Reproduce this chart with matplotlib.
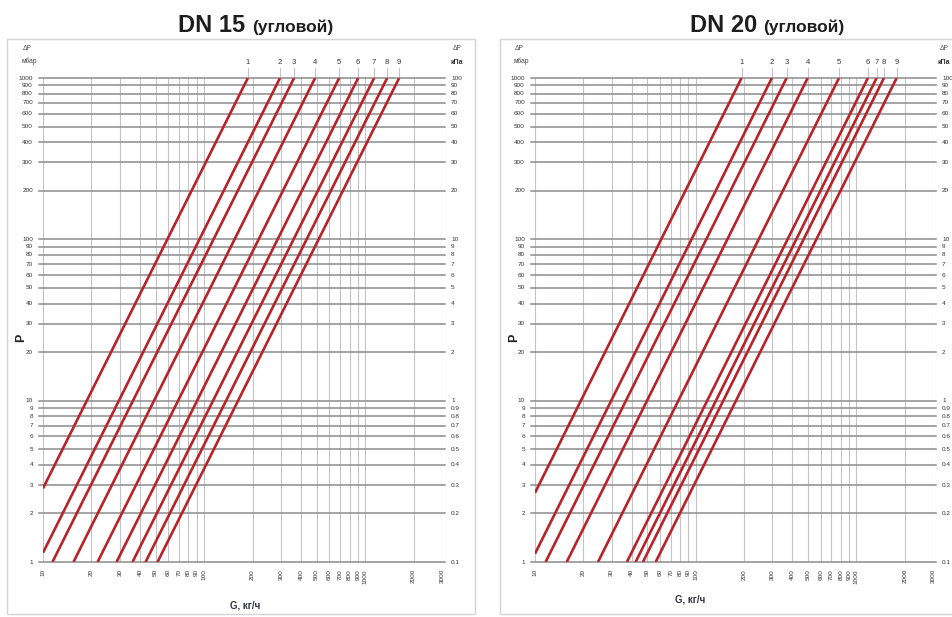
import numpy as np
import matplotlib
matplotlib.use("Agg")
import matplotlib.pyplot as plt
from matplotlib.patches import Rectangle

# ---------------- data ----------------
g_ticks = [10, 20, 30, 40, 50, 60, 70, 80, 90, 100,
           200, 300, 400, 500, 600, 700, 800, 900, 1000, 2000, 3000]
p_ticks = [1, 2, 3, 4, 5, 6, 7, 8, 9, 10,
           20, 30, 40, 50, 60, 70, 80, 90, 100,
           200, 300, 400, 500, 600, 700, 800, 900, 1000]
line_labels = ["1", "2", "3", "4", "5", "6", "7", "8", "9"]
# flow G (kg/h) at which each curve reaches dP = 1000 mbar (read at top of chart)
dn15_g1000 = [187, 296, 362, 489, 690, 905, 1137, 1370, 1626]
dn20_g1000 = [193, 298, 368, 498, 780, 1180, 1337, 1485, 1782]
titles = ["DN 15", "DN 20"]
subtitle = "(угловой)"

W, H = 953, 617
fig = plt.figure(figsize=(W / 100, H / 100), dpi=100)
fig.patch.set_facecolor("white")

NUMFONT = ["Liberation Sans Narrow", "Liberation Sans", "DejaVu Sans"]
RED = "#b8232a"
HGRID = "#8c8c8c"
VGRID = "#c4c4c4"


def add_px_axes(l, t, r, b):
    return fig.add_axes([l / W, 1 - b / H, (r - l) / W, (b - t) / H])


def fig_text(x, y, s, **kw):
    fig.text(x / W, 1 - y / H, s, **kw)


def draw_panel(ax, g1000):
    ax.set_xscale("log")
    ax.set_yscale("log")
    ax.set_xlim(10, 3000)
    ax.set_ylim(1, 1000)
    ax.set_axis_off()
    # vertical grid
    for g in g_ticks:
        ax.plot([g, g], [1, 1000], color=VGRID, lw=0.8, zorder=1)
    # horizontal grid extending slightly outside
    for p in p_ticks:
        ax.plot([-4 / 399, 1 + 3 / 399], [p, p], color=HGRID, lw=1.1,
                transform=ax.get_yaxis_transform(), clip_on=False, zorder=2)
    # curves  dP = 1000 * (G / G1000)^2
    for lab, g1 in zip(line_labels, g1000):
        g_start = max(10.0, g1 / np.sqrt(1000.0))
        gs = np.array([g_start, g1])
        ps = 1000.0 * (gs / g1) ** 2
        ax.plot(gs, ps, color=RED, lw=1.9, solid_capstyle="butt", zorder=4)
        ax.plot([g1, g1], [1000, 1000 * 10 ** (10 / 161.3)], color=VGRID,
                lw=0.8, clip_on=False, zorder=1)
        ax.annotate(lab, xy=(g1, 1), xycoords=("data", "axes fraction"),
                    xytext=(0, 15), textcoords="offset pixels",
                    ha="center", va="center", fontsize=5.5,
                    family=NUMFONT, color="#333333")
    # left (mbar) and right (kPa) tick labels
    for p in p_ticks:
        ax.annotate(f"{p:g}", xy=(0, p), xycoords=("axes fraction", "data"),
                    xytext=(-10, 0), textcoords="offset pixels",
                    ha="right", va="center", fontsize=4.6,
                    family=NUMFONT, color="#333333")
        ax.annotate(f"{p / 10:g}", xy=(1, p), xycoords=("axes fraction", "data"),
                    xytext=(9, 0), textcoords="offset pixels",
                    ha="left", va="center", fontsize=4.6,
                    family=NUMFONT, color="#333333", annotation_clip=False)
    # bottom tick labels
    for g in g_ticks:
        ax.annotate(f"{g}", xy=(g, 0), xycoords=("data", "axes fraction"),
                    xytext=(0, -7), textcoords="offset pixels",
                    ha="center", va="top", rotation=90, fontsize=4.6,
                    family=NUMFONT, color="#333333")


# frames
fig.patches.append(Rectangle((7 / W, 1 - 614 / H), (475 - 7) / W, (614 - 39) / H,
                             transform=fig.transFigure, fill=False,
                             edgecolor="#d4d4d4", lw=1.0))
fig.patches.append(Rectangle((500 / W, 1 - 614 / H), 470 / W, (614 - 39) / H,
                             transform=fig.transFigure, fill=False,
                             edgecolor="#d4d4d4", lw=1.0))

ax1 = add_px_axes(43, 78, 442, 562)
draw_panel(ax1, dn15_g1000)
ax2 = add_px_axes(535, 78, 933, 562)
draw_panel(ax2, dn20_g1000)

# titles
TFONT = ["Liberation Sans", "DejaVu Sans"]
fig_text(178, 32, titles[0], fontsize=17, fontweight="bold", family=TFONT,
         ha="left", va="baseline", color="#1e1e1e")
fig_text(252, 32, subtitle, fontsize=12.5, fontweight="bold", family=TFONT,
         ha="left", va="baseline", color="#1e1e1e")
fig_text(690, 32, titles[1], fontsize=17, fontweight="bold", family=TFONT,
         ha="left", va="baseline", color="#1e1e1e")
fig_text(763, 32, subtitle, fontsize=12.5, fontweight="bold", family=TFONT,
         ha="left", va="baseline", color="#1e1e1e")

# axis unit labels
for x0, x1 in [(27, 457), (519, 944)]:
    fig_text(x0, 48, "ΔP", fontsize=4.8, family=NUMFONT, ha="center",
             va="center", color="#444444")
    fig_text(x0 + 2, 61, "мбар", fontsize=4.8, family=NUMFONT, ha="center",
             va="center", color="#444444")
    fig_text(x1, 48, "ΔP", fontsize=4.8, family=NUMFONT, ha="center",
             va="center", color="#444444")
    fig_text(x1, 62, "кПа", fontsize=5, family=NUMFONT, ha="center",
             va="center", color="#333333", fontweight="bold")

# P labels
fig_text(21, 338, "P", fontsize=9, fontweight="bold", family=TFONT,
         rotation=90, ha="center", va="center", color="#222222")
fig_text(514, 338, "P", fontsize=9, fontweight="bold", family=TFONT,
         rotation=90, ha="center", va="center", color="#222222")

# G labels
fig_text(245, 606, "G, кг/ч", fontsize=7, fontweight="bold", family=TFONT,
         ha="center", va="center", color="#333344")
fig_text(690, 600, "G, кг/ч", fontsize=7, fontweight="bold", family=TFONT,
         ha="center", va="center", color="#333344")

fig.savefig("out.png", dpi=100, facecolor="white")
